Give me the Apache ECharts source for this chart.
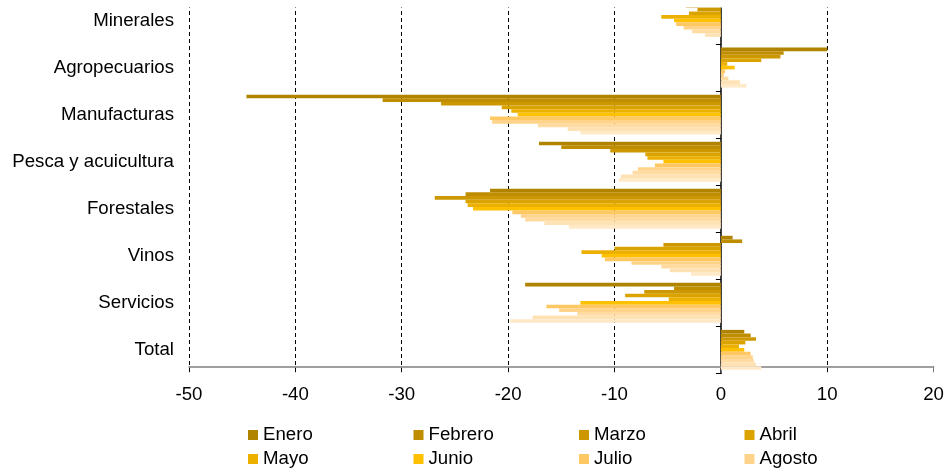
<!DOCTYPE html>
<html>
<head>
<meta charset="utf-8">
<script src="https://cdn.jsdelivr.net/npm/echarts@6/dist/echarts.min.js"></script>
<style>html,body{margin:0;padding:0;background:#fff;overflow:hidden}#c{position:absolute;left:0;top:-4px;width:947px;height:474px}</style>
</head>
<body>
<div id="c"></div>
<script>
var categories = ['Minerales','Agropecuarios','Manufacturas','Pesca y acuicultura','Forestales','Vinos','Servicios','Total'];
var months = ['Enero','Febrero','Marzo','Abril','Mayo','Junio','Julio','Agosto','Septiembre','Octubre','Noviembre'];
var legendMonths = ['Enero','Febrero','Marzo','Abril','Mayo','Junio','Julio','Agosto'];
var xTicks = [-50,-40,-30,-20,-10,0,10,20];
var gridValues = [-50,-40,-30,-20,-10,10];

var enero      = [-2.3, 10.0, -44.6, -17.1, -21.7,   1.1, -18.4, 2.2];
var febrero    = [-3.3,  5.9, -31.8, -15.0, -24.0,   2.0,  -4.4, 2.8];
var marzo      = [-2.2,  5.6, -26.3, -10.4, -26.9,  -5.4,  -7.2, 3.3];
var abril      = [-3.0,  3.8, -20.6,  -7.1, -24.0, -10.0,  -9.0, 2.3];
var mayo       = [-5.6,  0.6, -19.7,  -6.9, -23.8, -13.1,  -4.9, 1.7];
var junio      = [-4.4,  1.3, -19.1,  -5.4, -23.3, -11.2, -13.2, 2.2];
var julio      = [-4.2,  0.4, -21.7,  -6.2, -19.6, -10.9, -16.4, 2.8];
var agosto     = [-3.5,  0.3, -21.5,  -7.8, -18.8,  -8.4, -15.2, 3.0];
var septiembre = [-2.7,  0.7, -17.2,  -8.3, -18.4,  -5.6, -13.5, 3.1];
var octubre    = [-1.5,  1.8, -14.4,  -9.4, -16.6,  -4.8, -17.7, 3.3];
var noviembre  = [ 0.0,  2.4, -13.2,  -9.6, -14.3,  -2.8, -19.8, 3.8];

var seriesValues = [enero,febrero,marzo,abril,mayo,junio,julio,agosto,septiembre,octubre,noviembre];
var colors = ['#B08300','#BF8D00','#CC9700','#DBA300','#EBB000','#FFC000','#FFC862','#FFD38A','#FFDBA1','#FFE2B4','#FFE9C7'];

var FONT = '"Liberation Sans", Arial, sans-serif';
var FS = 18.67;
var chart = echarts.init(document.getElementById('c'), null, {renderer:'canvas'});

var series = months.map(function(m, i){
  var s = {
    name: m, type: 'bar', yAxisIndex: 0, xAxisIndex: 0,
    data: seriesValues[i],
    barGap: '0%', barCategoryGap: '15%',
    itemStyle: {color: colors[i]},
    emphasis: {disabled: true},
    animation: false,
    z: 2
  };
  if (i === 0) {
    s.markLine = {
      silent: true, symbol: 'none', animation: false, z: 1,
      label: {show: false},
      lineStyle: {color: '#000', type: [4,3], width: 1},
      data: gridValues.map(function(v){ return {xAxis: v}; })
    };
  }
  return s;
});

var legendLefts = [248, 413.5, 579, 744.5];
var legendTops = [429.5, 453.5];
var legends = legendMonths.map(function(name, i){
  return {
    data: [name],
    left: legendLefts[i % 4], top: legendTops[Math.floor(i / 4)], padding: 0,
    orient: 'horizontal',
    icon: 'rect', itemWidth: 10, itemHeight: 10, itemTextGap: 3,
    selectedMode: false,
    textStyle: {fontSize: FS, color: '#000', fontFamily: FONT}
  };
});

chart.setOption({
  animation: false,
  color: colors,
  textStyle: {fontFamily: FONT},
  grid: {left: 189, right: 11, top: 1, bottom: 96.6, containLabel: false},
  legend: legends,
  xAxis: {
    type: 'value', min: -50, max: 20, interval: 10,
    position: 'bottom', offset: -7,
    axisLine: {show: true, onZero: false, lineStyle: {color: '#808080', width: 1.5}},
    axisTick: {show: true, length: 6, lineStyle: {color: '#808080'}},
    axisLabel: {fontSize: FS, color: '#000', margin: 19, fontFamily: FONT,
      formatter: function(v){ return xTicks.indexOf(v) >= 0 ? String(v) : ''; }},
    splitLine: {show: false}
  },
  yAxis: [
    {
      type: 'category', data: categories, inverse: true, position: 'left',
      axisLine: {show: false, onZero: false},
      axisTick: {show: false},
      axisLabel: {fontSize: FS, color: '#000', margin: 15, fontFamily: FONT},
      splitLine: {show: false}
    },
    {
      type: 'category', data: categories, inverse: true, position: 'left',
      axisLine: {show: true, onZero: true, lineStyle: {color: '#000', width: 1.5}},
      axisTick: {show: true, length: 5, lineStyle: {color: '#000'}},
      axisLabel: {show: false},
      splitLine: {show: false}
    }
  ],
  graphic: [{
    type: 'rect', z: 100, silent: true,
    shape: {x: 180, y: 0, width: 767, height: 11.5},
    style: {fill: '#fff'}
  }],
  series: series
});
</script>
</body>
</html>
